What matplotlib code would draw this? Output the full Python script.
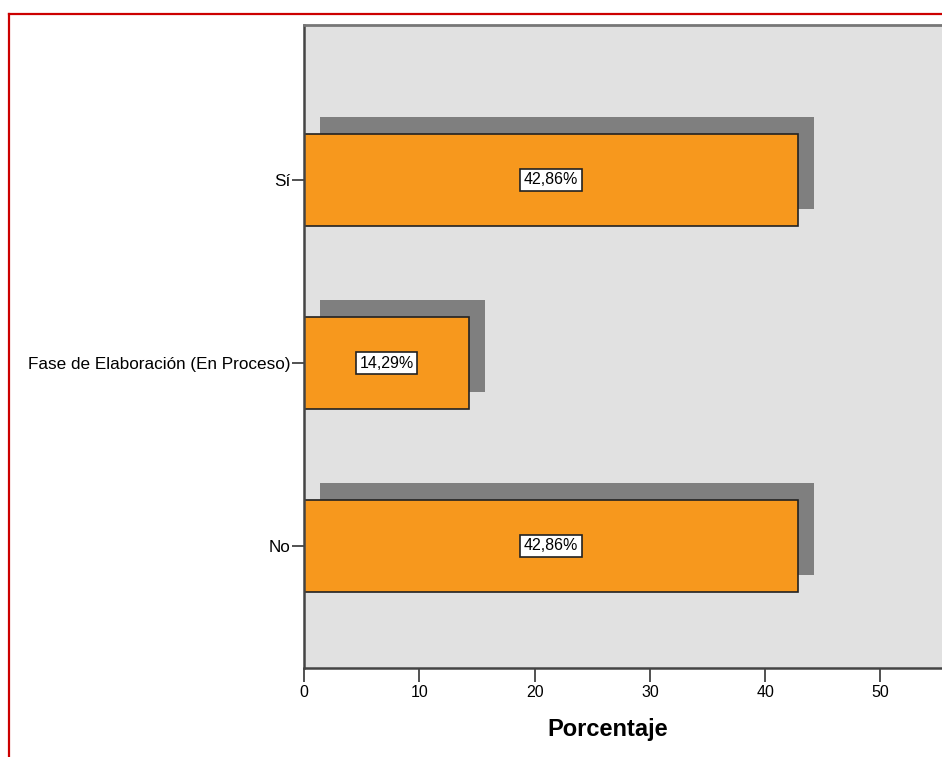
import matplotlib.pyplot as plt
from matplotlib.lines import Line2D

plt.rcParams['font.family'] = ['Liberation Sans', 'DejaVu Sans']

categorias = ["No", "Fase de Elaboración (En Proceso)", "Sí"]
porcentajes = [42.86, 14.29, 42.86]
etiquetas = ["42,86%", "14,29%", "42,86%"]
xticks = [0, 10, 20, 30, 40, 50]

W, H = 942, 757
fig = plt.figure(figsize=(W / 100, H / 100), dpi=100)
ax = fig.add_axes([304 / W, (H - 668) / H, 1 - 304 / W, (668 - 25) / H])
ax.set_facecolor('#e1e1e1')

px_x = 11.53  # pixels per percent
px_y = 183.0  # pixels per category
dx = 16 / px_x
dy = 17 / px_y

pos = list(range(len(categorias)))
# shadow
ax.barh([p + dy for p in pos], porcentajes, left=dx, height=0.5,
        color='#7f7f7f', zorder=1)
ax.barh(pos, porcentajes, height=0.5, color='#f7981d',
        edgecolor='#222222', linewidth=1.2, zorder=2)

for p, v, t in zip(pos, porcentajes, etiquetas):
    ax.text(v / 2, p, t, ha='center', va='center', fontsize=11.5, zorder=3,
            bbox=dict(boxstyle='square,pad=0.22', facecolor='white',
                      edgecolor='#222222', linewidth=1.2))

ax.set_xlim(0, (W - 304) / px_x)
ax.set_ylim(-(668 - 546) / px_y, (546 - 25) / px_y)
ax.set_yticks(pos)
ax.set_yticklabels(categorias, fontsize=12.3)
ax.set_xticks(xticks)
ax.set_xticklabels([str(x) for x in xticks], fontsize=11.5)
ax.tick_params(axis='y', length=9, width=1.2, color='#333333', pad=1)
ax.tick_params(axis='x', length=10, width=1.2, color='#333333', pad=2)

ax.spines['right'].set_visible(False)
ax.spines['left'].set_color('#444444')
ax.spines['left'].set_linewidth(1.8)
ax.spines['bottom'].set_color('#444444')
ax.spines['bottom'].set_linewidth(1.8)
ax.spines['top'].set_color('#777777')
ax.spines['top'].set_linewidth(2)

ax.set_xlabel("Porcentaje", fontsize=17, fontweight='bold')
ax.xaxis.set_label_coords(0.476, -0.077)

# red frame around the chart
y_top = 1 - 14 / H
x_left = 9 / W
fig.add_artist(Line2D([x_left, 1], [y_top, y_top], color='#cc0000', linewidth=1.6,
                      transform=fig.transFigure))
fig.add_artist(Line2D([x_left, x_left], [0, y_top], color='#cc0000', linewidth=1.6,
                      transform=fig.transFigure))

fig.savefig('out.png', dpi=100)
